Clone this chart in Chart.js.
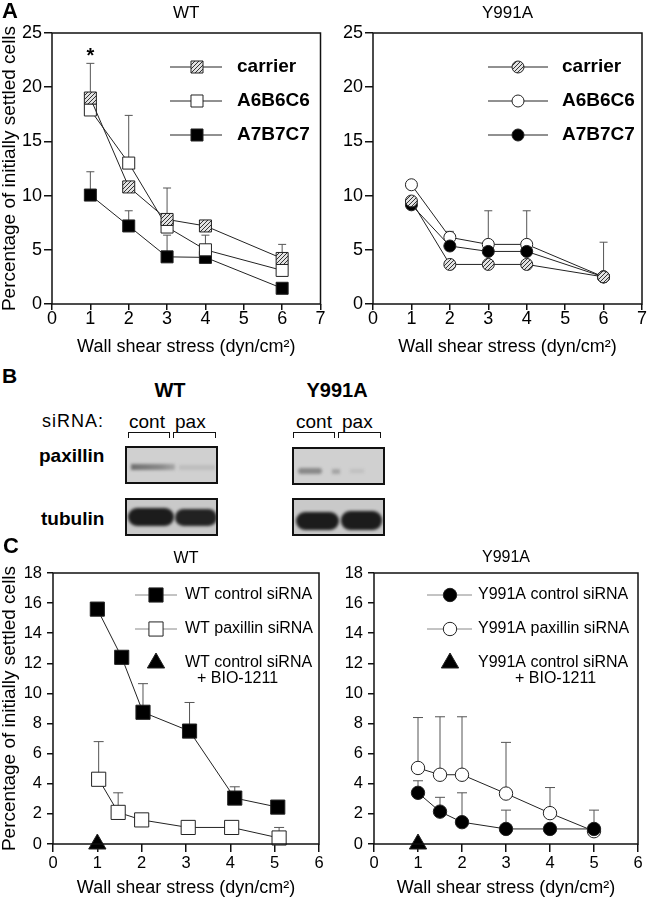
<!DOCTYPE html>
<html>
<head>
<meta charset="utf-8">
<script src="https://cdn.jsdelivr.net/npm/chart.js@4.4.1/dist/chart.umd.min.js"></script>
<style>
  body { margin: 0; width: 649px; height: 899px; position: relative; overflow: hidden; background: #fff;
         font-family: "Liberation Sans", Arial, sans-serif; color: #000; }
  canvas { position: absolute; display: block; }
  .t { position: absolute; line-height: 1; white-space: nowrap; }
  .b { font-weight: bold; }
  .bracket { position: absolute; height: 5px; border: 1.5px solid #111; border-bottom: none; }
  .blot { position: absolute; width: 89px; height: 34px; border: 2px solid #111; background: #d0d0d0; overflow: hidden; }
  .band { position: absolute; }
</style>
</head>
<body>
<canvas id="aWT" width="330" height="360" style="left:0;top:0"></canvas>
<canvas id="aMut" width="319" height="360" style="left:330px;top:0"></canvas>

<!-- panel B: western blots -->
<div class="t b" style="left:2px;top:365px;font-size:21px">B</div>
<div class="t b" style="left:120px;top:380px;width:100px;text-align:center;font-size:20px">WT</div>
<div class="t b" style="left:287px;top:380px;width:100px;text-align:center;font-size:20px">Y991A</div>
<div class="t" style="left:42px;top:412px;font-size:18px;letter-spacing:1px">siRNA:</div>
<div class="t" style="left:129px;top:412px;font-size:19px">cont</div>
<div class="t" style="left:175px;top:412px;font-size:19px">pax</div>
<div class="t" style="left:296px;top:412px;font-size:19px">cont</div>
<div class="t" style="left:342px;top:412px;font-size:19px">pax</div>
<div class="bracket" style="left:128px;top:432px;width:40px"></div>
<div class="bracket" style="left:173px;top:432px;width:41px"></div>
<div class="bracket" style="left:293px;top:432px;width:40px"></div>
<div class="bracket" style="left:338px;top:432px;width:41px"></div>
<div class="t b" style="left:39px;top:446px;font-size:19px">paxillin</div>
<div class="t b" style="left:41px;top:509px;font-size:19px">tubulin</div>

<div class="blot" style="left:125px;top:446px">
  <div class="band" style="left:4px;top:16px;width:44px;height:6px;background:linear-gradient(90deg,#6e6e6e,#8a8a8a 70%,#a8a8a8);filter:blur(1.5px)"></div>
  <div class="band" style="left:52px;top:17px;width:36px;height:5px;background:#bdbdbd;filter:blur(1.5px)"></div>
</div>
<div class="blot" style="left:125px;top:498px;background:#c9c9c9">
  <div class="band" style="left:1px;top:8px;width:46px;height:18px;background:#1c1c1c;border-radius:9px;filter:blur(1.5px)"></div>
  <div class="band" style="left:48px;top:9px;width:42px;height:17px;background:#222;border-radius:9px;filter:blur(1.5px)"></div>
</div>
<div class="blot" style="left:292px;top:447px">
  <div class="band" style="left:4px;top:19px;width:24px;height:6px;background:#888;border-radius:3px;filter:blur(1.5px)"></div>
  <div class="band" style="left:38px;top:20px;width:8px;height:5px;background:#a4a4a4;filter:blur(1.5px)"></div>
  <div class="band" style="left:56px;top:20px;width:14px;height:4px;background:#bfbfbf;filter:blur(1.5px)"></div>
</div>
<div class="blot" style="left:292px;top:498px;background:#c9c9c9">
  <div class="band" style="left:2px;top:12px;width:43px;height:18px;background:#1c1c1c;border-radius:9px;filter:blur(1.5px)"></div>
  <div class="band" style="left:47px;top:11px;width:41px;height:19px;background:#1c1c1c;border-radius:9px;filter:blur(1.5px)"></div>
</div>

<canvas id="cWT" width="330" height="359" style="left:0;top:540px"></canvas>
<canvas id="cMut" width="319" height="359" style="left:330px;top:540px"></canvas>
<div class="t b" style="left:3px;top:535px;font-size:22px">C</div>

<script>
// ---- panel A: settled cells vs shear, carrier / peptides ----
const shearA = [1, 2, 3, 4, 6];
const labelsA = ['carrier', 'A6B6C6', 'A7B7C7'];
const wtCarrier = [19.0, 10.8, 7.8, 7.2, 4.2];
const wtCarrierErr = [3.2, null, 2.9, null, 1.3];
const wtA6 = [17.9, 13.0, 7.1, 5.0, 3.1];
const wtA6Err = [null, 4.4, null, null, null];
const wtA7 = [10.05, 7.2, 4.35, 4.3, 1.45];
const wtA7Err = [2.15, 1.4, 2.0, 2.05, null];
const mutCarrier = [9.5, 3.65, 3.65, 3.65, 2.5];
const mutCarrierErr = [null, null, null, null, 3.2];
const mutA6 = [11.0, 6.15, 5.5, 5.5, 2.5];
const mutA6Err = [null, 0.55, 3.1, 3.1, null];
const mutA7 = [9.15, 5.35, 4.85, 4.85, 2.5];
const starShear = [1];
const starLevel = [23.2];

// ---- panel C: control vs paxillin siRNA ----
const shearC = [1, 1.5, 2, 3, 4, 5];
const wtCtrlShear = [1, 1.55, 2.03, 3.08, 4.1, 5.07];
const wtCtrl = [15.6, 12.4, 8.75, 7.5, 3.05, 2.45];
const wtCtrlErr = [0.25, null, 1.9, 1.9, 0.75, null];
const wtPaxShear = [1.03, 1.47, 2.0, 3.05, 4.03, 5.1];
const wtPax = [4.3, 2.1, 1.6, 1.1, 1.1, 0.4];
const wtPaxErr = [2.5, 1.3, null, null, null, 0.7];
const mutCtrl = [3.4, 2.15, 1.45, 1.0, 1.0, 1.0];
const mutCtrlErr = [0.8, 0.95, 1.95, 1.25, null, 1.25];
const mutPax = [5.05, 4.6, 4.6, 3.35, 2.05, 0.85];
const mutPaxErr = [3.35, 3.85, 3.85, 3.4, 1.7, null];
const bioShear = [1];
const bioLevel = [0];
const labelsCwt = ['WT control siRNA', 'WT paxillin siRNA', 'WT control siRNA\n+ BIO-1211'];
const labelsCmut = ['Y991A control siRNA', 'Y991A paxillin siRNA', 'Y991A control siRNA\n+ BIO-1211'];

const FONT = '"Liberation Sans", Arial, sans-serif';
Chart.defaults.font.family = FONT;
Chart.defaults.color = '#000';

function hatch() {
  const c = document.createElement('canvas');
  c.width = 4; c.height = 4;
  const g = c.getContext('2d');
  g.fillStyle = '#e2e2e2';
  g.fillRect(0, 0, 4, 4);
  g.strokeStyle = '#333';
  g.lineWidth = 1;
  g.beginPath();
  g.moveTo(0, 4); g.lineTo(4, 0);
  g.moveTo(-1, 1); g.lineTo(1, -1);
  g.moveTo(3, 5); g.lineTo(5, 3);
  g.stroke();
  return g.createPattern(c, 'repeat');
}
const HATCH = hatch();

function series(label, xs, ys, shape, r, fill, extra) {
  return Object.assign({
    label,
    data: xs.map((x, i) => ({ x, y: ys[i] })),
    borderColor: '#222', borderWidth: 1,
    pointStyle: shape, pointRadius: r,
    pointBackgroundColor: fill, pointBorderColor: '#222', pointBorderWidth: 1,
    clip: false, order: 1
  }, extra || {});
}

function errorBars(xs, ys, errs, cap) {
  const pts = [];
  xs.forEach((x, i) => {
    if (errs[i] == null) return;
    pts.push({ x, y: ys[i] }, { x, y: ys[i] + errs[i] }, { x, y: null });
  });
  return {
    label: '', data: pts, borderColor: '#555', borderWidth: 1,
    pointStyle: 'line', pointBorderColor: '#555', pointBorderWidth: 1,
    pointRadius: ctx => (ctx.dataIndex % 3 === 1 ? cap : 0),
    spanGaps: false, clip: false, order: 5
  };
}

// box, panel letter/title, inset legend, star
function decor(cfg) {
  return {
    id: 'decor',
    afterDraw(chart) {
      const { ctx, chartArea: a } = chart;
      ctx.save();
      ctx.strokeStyle = '#111';
      ctx.lineWidth = 1.5;
      ctx.strokeRect(a.left, a.top, a.right - a.left, a.bottom - a.top);

      ctx.fillStyle = '#000';
      ctx.textAlign = 'center';
      ctx.textBaseline = 'middle';
      ctx.font = cfg.titleFont;
      ctx.fillText(cfg.title, (a.left + a.right) / 2, cfg.titleY);
      if (cfg.letter) {
        ctx.textAlign = 'left';
        ctx.font = 'bold 22px ' + FONT;
        ctx.fillText(cfg.letter, 2, cfg.letterY);
      }

      const leg = cfg.legend;
      leg.items.forEach(item => {
        const ds = chart.data.datasets[item.ds];
        if (!item.noLine) {
          ctx.strokeStyle = leg.lineColor;
          ctx.lineWidth = 1;
          ctx.beginPath();
          ctx.moveTo(leg.lineFrom, item.y);
          ctx.lineTo(leg.lineTo, item.y);
          ctx.stroke();
        }
        ctx.fillStyle = ds.pointBackgroundColor;
        ctx.strokeStyle = ds.pointBorderColor;
        ctx.lineWidth = ds.pointBorderWidth;
        Chart.helpers.drawPoint(ctx, {
          pointStyle: ds.pointStyle, radius: ds.pointRadius, rotation: 0, borderWidth: ds.pointBorderWidth
        }, leg.markerX, item.y);
        ctx.fillStyle = '#000';
        ctx.font = leg.font;
        const lines = ds.label.split('\n');
        ctx.textAlign = 'left';
        ctx.fillText(lines[0], leg.textX, item.y);
        if (lines[1]) ctx.fillText(lines[1], leg.secondX, item.y + leg.lineGap);
      });

      if (cfg.stars) {
        const xs = chart.scales.x, ys = chart.scales.y;
        ctx.font = 'bold 20px ' + FONT;
        ctx.textAlign = 'center';
        cfg.stars.x.forEach((v, i) => {
          ctx.fillText('*', xs.getPixelForValue(v), ys.getPixelForValue(cfg.stars.y[i]) + 4);
        });
      }
      ctx.restore();
    }
  };
}

function axes(p) {
  return {
    x: {
      type: 'linear', min: 0, max: p.xMax,
      ticks: { stepSize: 1, font: { size: p.tickSize, lineHeight: 1 }, padding: p.xPad, maxRotation: 0, color: '#000' },
      grid: { drawOnChartArea: false, tickLength: p.xTick, color: '#111', lineWidth: 1.5 },
      border: { display: false },
      title: { display: true, text: 'Wall shear stress (dyn/cm\u00b2)', font: { size: 18, lineHeight: 1 },
               padding: { top: 0, bottom: p.xTitlePad }, color: '#000' },
      afterFit: s => { s.height = p.xH; }
    },
    y: {
      type: 'linear', min: 0, max: p.yMax,
      ticks: { stepSize: p.yStep, font: { size: p.tickSize, lineHeight: 1 }, padding: p.yPad, color: '#000' },
      grid: { drawOnChartArea: false, tickLength: p.yTick, color: '#111', lineWidth: 1.5 },
      border: { display: false },
      title: { display: p.yTitle, text: 'Percentage of initially settled cells', font: { size: 19, lineHeight: 1 },
               padding: { top: 0, bottom: 0 }, color: '#000' },
      afterFit: s => { s.width = p.yW; }
    }
  };
}

function makeChart(id, datasets, p, deco) {
  return new Chart(document.getElementById(id), {
    type: 'line',
    data: { datasets },
    options: {
      responsive: false, animation: false, events: [],
      layout: { padding: { top: 33, right: p.padRight, left: 0, bottom: 0 } },
      plugins: { legend: { display: false }, tooltip: { enabled: false } },
      scales: axes(p)
    },
    plugins: [decor(deco)]
  });
}

const axA = { xMax: 7, yMax: 25, yStep: 5, tickSize: 18, xPad: 0, xTick: 6, yPad: 2, yTick: 8, xH: 56, xTitlePad: 4 };
const axC = { xMax: 6, yMax: 18, yStep: 2, tickSize: 16.5, xPad: 3, xTick: 8, yPad: 5, yTick: 6, xH: 55, xTitlePad: 2 };

// A - WT
makeChart('aWT', [
  series(labelsA[0], shearA, wtCarrier, 'rect', 8.5, HATCH),
  series(labelsA[1], shearA, wtA6, 'rect', 8.5, '#fff'),
  series(labelsA[2], shearA, wtA7, 'rect', 8.5, '#000'),
  errorBars(shearA, wtCarrier, wtCarrierErr, 4),
  errorBars(shearA, wtA6, wtA6Err, 4),
  errorBars(shearA, wtA7, wtA7Err, 4)
], Object.assign({ yW: 52, padRight: 7, yTitle: true }, axA), {
  title: 'WT', titleY: 13, titleFont: '17px ' + FONT, letter: 'A', letterY: 12,
  stars: { x: starShear, y: starLevel },
  legend: { lineFrom: 170, lineTo: 222, markerX: 197, textX: 237, lineColor: '#222', font: 'bold 19px ' + FONT,
            items: [{ ds: 0, y: 67 }, { ds: 1, y: 101 }, { ds: 2, y: 135 }] }
});

// A - Y991A
makeChart('aMut', [
  series(labelsA[0], shearA, mutCarrier, 'circle', 6, HATCH),
  series(labelsA[2], shearA, mutA7, 'circle', 6, '#000'),
  series(labelsA[1], shearA, mutA6, 'circle', 6, '#fff'),
  errorBars(shearA, mutCarrier, mutCarrierErr, 4),
  errorBars(shearA, mutA6, mutA6Err, 4)
], Object.assign({ yW: 43, padRight: 6, yTitle: false }, axA), {
  title: 'Y991A', titleY: 13, titleFont: '17px ' + FONT,
  legend: { lineFrom: 158, lineTo: 218, markerX: 188, textX: 232, lineColor: '#222', font: 'bold 19px ' + FONT,
            items: [{ ds: 0, y: 67 }, { ds: 2, y: 101 }, { ds: 1, y: 135 }] }
});

// C - WT
makeChart('cWT', [
  series(labelsCwt[0], wtCtrlShear, wtCtrl, 'rect', 10, '#000'),
  series(labelsCwt[1], wtPaxShear, wtPax, 'rect', 10, '#fff'),
  series(labelsCwt[2], bioShear, bioLevel, 'triangle', 10, '#000', { showLine: false }),
  errorBars(wtCtrlShear, wtCtrl, wtCtrlErr, 5),
  errorBars(wtPaxShear, wtPax, wtPaxErr, 5)
], Object.assign({ yW: 53, padRight: 5, yTitle: true }, axC), {
  title: 'WT', titleY: 19, titleFont: '16px ' + FONT,
  legend: { lineFrom: 135, lineTo: 177, markerX: 156, textX: 185, secondX: 197, lineGap: 15.5, lineColor: '#888',
            font: '16px ' + FONT,
            items: [{ ds: 0, y: 55 }, { ds: 1, y: 89 }, { ds: 2, y: 123, noLine: true }] }
});

// C - Y991A
makeChart('cMut', [
  series(labelsCmut[0], shearC, mutCtrl, 'circle', 6.7, '#000'),
  series(labelsCmut[1], shearC, mutPax, 'circle', 6.7, '#fff'),
  series(labelsCmut[2], bioShear, bioLevel, 'triangle', 10, '#000', { showLine: false }),
  errorBars(shearC, mutCtrl, mutCtrlErr, 5),
  errorBars(shearC, mutPax, mutPaxErr, 5)
], Object.assign({ yW: 44, padRight: 4, yTitle: false }, axC), {
  title: 'Y991A', titleY: 18, titleFont: '16px ' + FONT,
  legend: { lineFrom: 97, lineTo: 142, markerX: 120, textX: 148, secondX: 185, lineGap: 15.5, lineColor: '#888',
            font: '16px ' + FONT,
            items: [{ ds: 0, y: 55 }, { ds: 1, y: 89 }, { ds: 2, y: 123, noLine: true }] }
});
</script>
</body>
</html>
